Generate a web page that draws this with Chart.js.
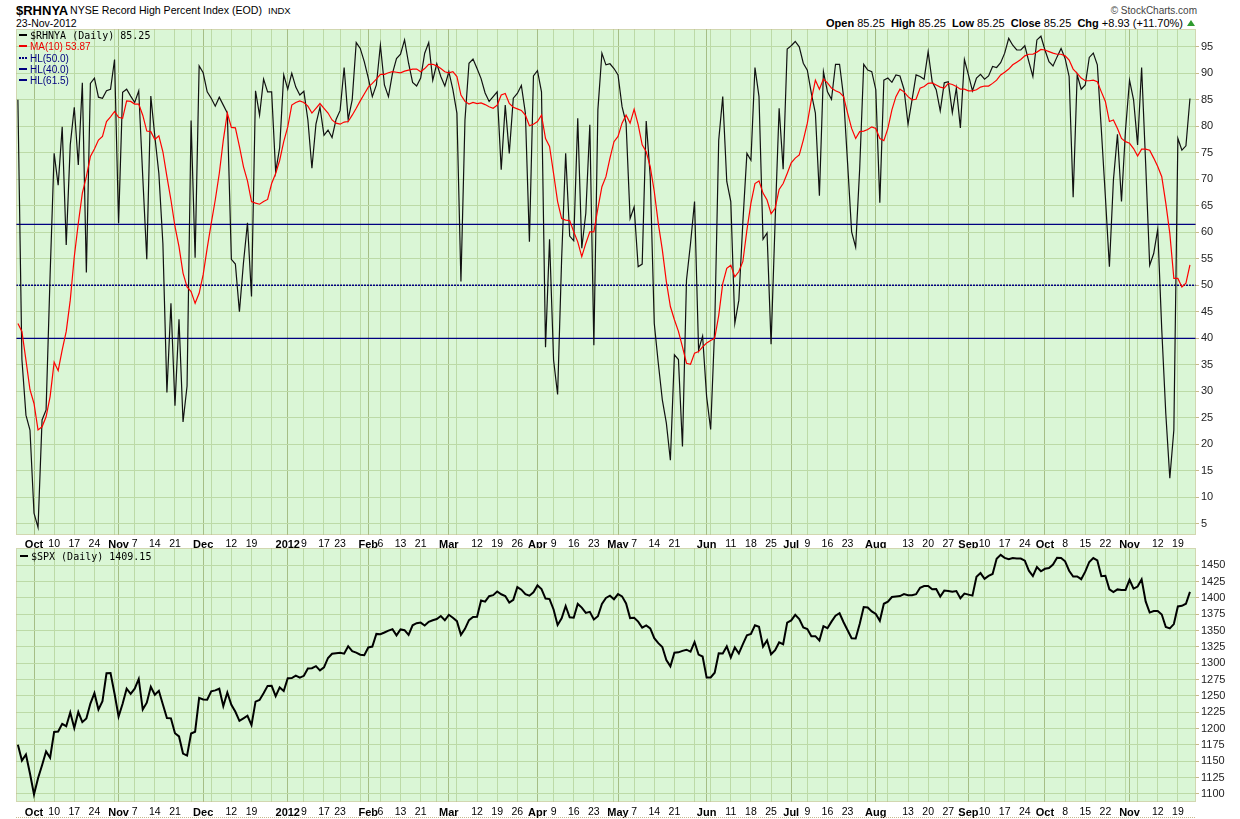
<!DOCTYPE html>
<html>
<head>
<meta charset="utf-8">
<title>$RHNYA vs $SPX</title>
<script src="https://cdn.jsdelivr.net/npm/chart.js@4.4.0/dist/chart.umd.min.js"></script>
<style>
  body { margin: 0; background: #fff; width: 1240px; height: 819px; position: relative; overflow: hidden;
         font-family: Arial, "Liberation Sans", sans-serif; color: #000; }
  .abs { position: absolute; white-space: nowrap; line-height: 1; }
  canvas { position: absolute; left: 0; }
  .leg { position: absolute; white-space: nowrap; font-size: 10px; line-height: 11px; }
  .mk { display: inline-block; width: 8px; height: 2px; vertical-align: middle; margin-right: 3px; position: relative; top: -1px; }
  .mono { font-family: "DejaVu Sans Mono", monospace; }
  .hdr b { font-weight: bold; }
  .up { display: inline-block; width: 0; height: 0; border-left: 4px solid transparent; border-right: 4px solid transparent;
        border-bottom: 6px solid #2e9a2e; margin-left: 4px; vertical-align: 1px; }
</style>
</head>
<body>

<div class="abs" style="left:16px;top:4px;font-size:13px;font-weight:bold;">$RHNYA</div>
<div class="abs" style="left:70px;top:5px;font-size:10.6px;">NYSE Record High Percent Index (EOD)</div>
<div class="abs" style="left:268px;top:6px;font-size:9.5px;">INDX</div>
<div class="abs" style="left:16px;top:18px;font-size:10.5px;">23-Nov-2012</div>
<div class="abs" style="right:43px;top:6px;font-size:10px;color:#444;">© StockCharts.com</div>
<div class="abs hdr" style="right:45px;top:18px;font-size:11px;">
  <b>Open</b> 85.25&nbsp; <b>High</b> 85.25&nbsp; <b>Low</b> 85.25&nbsp; <b>Close</b> 85.25&nbsp; <b>Chg</b> +8.93 (+11.70%)<span class="up"></span>
</div>

<canvas id="rhnya" width="1240" height="520" style="top:29px"></canvas>
<canvas id="spx" width="1240" height="271" style="top:548px"></canvas>

<div class="leg mono" style="left:19px;top:30px;"><span class="mk" style="background:#000"></span>$RHNYA (Daily) 85.25</div>
<div class="leg" style="left:19px;top:41px;color:#e00;"><span class="mk" style="background:#e00"></span>MA(10) 53.87</div>
<div class="leg" style="left:19px;top:52.5px;color:#000080;"><span class="mk" style="background:repeating-linear-gradient(90deg,#000080 0 2px,transparent 2px 3px)"></span>HL(50.0)</div>
<div class="leg" style="left:19px;top:63.5px;color:#000080;"><span class="mk" style="background:#000080"></span>HL(40.0)</div>
<div class="leg" style="left:19px;top:74.5px;color:#000080;"><span class="mk" style="background:#000080"></span>HL(61.5)</div>
<div class="leg mono" style="left:20px;top:551px;"><span class="mk" style="background:#000"></span>$SPX (Daily) 1409.15</div>

<script>
// trading calendar of the chart window
const startDate = '2011-09-27';
const endDate = '2012-11-23';
const closedDays = ['2011-11-24', '2011-12-26', '2012-01-02', '2012-01-16', '2012-02-20', '2012-04-06',
  '2012-05-28', '2012-07-04', '2012-09-03', '2012-10-29', '2012-10-30', '2012-11-22'];

// x axis labels
const monthTicks = ['2011-10-03', '2011-11-01', '2011-12-01', '2012-01-03', '2012-02-01', '2012-03-01', '2012-04-02',
  '2012-05-01', '2012-06-01', '2012-07-02', '2012-08-01', '2012-09-04', '2012-10-01', '2012-11-01'];
const monthNames = ['Oct', 'Nov', 'Dec', '2012', 'Feb', 'Mar', 'Apr', 'May', 'Jun', 'Jul', 'Aug', 'Sep', 'Oct', 'Nov'];
const dayTicks = ['2011-10-10', '2011-10-17', '2011-10-24', '2011-11-07', '2011-11-14', '2011-11-21', '2011-12-12',
  '2011-12-19', '2012-01-09', '2012-01-17', '2012-01-23', '2012-02-06', '2012-02-13', '2012-02-21', '2012-03-12',
  '2012-03-19', '2012-03-26', '2012-04-09', '2012-04-16', '2012-04-23', '2012-05-07', '2012-05-14', '2012-05-21',
  '2012-06-11', '2012-06-18', '2012-06-25', '2012-07-09', '2012-07-16', '2012-07-23', '2012-08-13', '2012-08-20',
  '2012-08-27', '2012-09-10', '2012-09-17', '2012-09-24', '2012-10-08', '2012-10-15', '2012-10-22', '2012-11-12',
  '2012-11-19'];

// y axis ticks
const rhnyaTicks = [5, 10, 15, 20, 25, 30, 35, 40, 45, 50, 55, 60, 65, 70, 75, 80, 85, 90, 95];
const spxTicks = [1100, 1125, 1150, 1175, 1200, 1225, 1250, 1275, 1300, 1325, 1350, 1375, 1400, 1425, 1450];

// $RHNYA daily close
const rhnya = [
  85, 36, 25.5, 22.7, 7, 4.3, 24.6, 26.5, 52, 74.9, 68.9, 79.9, 57.6, 76.5, 83.6, 72.7, 88.2, 52.4, 88.1, 89.1,
  85.5, 85.3, 86.7, 87, 92.6, 61.7, 86.4, 87, 85.7, 84.5, 86.7, 70.5, 54.9, 85.7, 78.1, 71.1, 57.9, 29.8, 46.6, 27.3,
  43.6, 24.2, 31, 81.1, 55.2, 91.4, 90.1, 86.5, 85.3, 83.8, 85.5, 84, 82.5, 54.9, 54, 45, 54.2, 61.8, 47.9, 86.7,
  82.1, 88.9, 86.5, 86.5, 71.4, 76, 89.7, 87, 90, 87.4, 85.9, 86.6, 81.2, 72.1, 80.4, 83.6, 78.3, 79.3, 77.9, 81.3,
  83, 91.1, 81.3, 85, 95.8, 94.7, 92.2, 89.1, 85.6, 87.8, 95.3, 87.8, 85.6, 90, 92.8, 93.6, 96.3, 91.9, 88.3, 87.6,
  89.1, 93.8, 95.8, 88.7, 91.8, 89.4, 87.6, 90.3, 86.9, 82.5, 50.7, 81.2, 91.9, 92.7, 90.9, 89, 86.3, 84.7, 85.6, 86.5,
  71.8, 84, 74.9, 85.3, 86.2, 87.7, 82.5, 58.2, 89.5, 90.5, 86.5, 38.3, 58.7, 35.9, 29.4, 55, 74.9, 59.3, 58.4, 81.5,
  57, 63.6, 80.3, 38.7, 83.1, 93.8, 91.6, 91.8, 90.9, 89.7, 83.7, 80.6, 62.6, 64.8, 53.5, 54, 81, 70.5, 42.8, 35.3,
  28.4, 24, 17, 36.9, 36, 19.6, 51, 57.9, 65.8, 37.8, 40.4, 29, 22.8, 42, 77.4, 85.6, 69.6, 65.8, 42.8, 47.2,
  62, 74.9, 73.6, 91.1, 85.6, 58.7, 59.9, 38.9, 62, 83.4, 71.9, 94.6, 95.2, 96, 95, 91.9, 90.6, 86.2, 82.5, 66.9,
  90.3, 86.5, 85.1, 91.7, 91.7, 85.6, 73, 60.1, 57.2, 72, 91.7, 90.6, 90.3, 86.9, 65.6, 88.7, 89.1, 88.3, 89.7, 89.5,
  87, 80.4, 85, 89.7, 89.4, 88.9, 94.1, 88.4, 86.9, 82.9, 88.2, 88.4, 82.6, 87.2, 79.7, 92.6, 89.7, 86.7, 89.1, 89.8,
  88.9, 89.5, 91.3, 91.1, 92, 93.8, 96.6, 95.3, 94.4, 94.4, 95.2, 92.2, 89.4, 96.3, 97, 94.4, 92.2, 91.4, 93.1, 94.7,
  92.8, 89.4, 66.6, 89.7, 87, 87.8, 93, 93.8, 91.6, 79.3, 66.7, 53.5, 69.9, 78.5, 65.8, 79.3, 88.7, 85, 76.5, 91.1,
  73, 53.8, 56, 60.6, 41.6, 25.8, 13.6, 22.7, 77.7, 75.5, 76.32, 85.25
];

// MA(10) of $RHNYA
const ma10 = [
  42.8, 41.3, 35.9, 30.3, 27.7, 22.7, 23.3, 25.2, 29, 35.5, 33.9, 37.8, 41.3, 47.2, 55.4, 61.7, 67.4, 70.5, 74.3, 75.7,
  77.4, 78.1, 80.9, 81.8, 82.8, 81.7, 81.5, 84.8, 84.7, 84.2, 84.2, 82.1, 79.1, 79, 77.5, 78.2, 75.2, 70.5, 66.1, 61.1,
  57.3, 52.3, 49.7, 48.8, 46.6, 48.5, 52, 57, 61.7, 66.1, 71.1, 77.4, 82.5, 79.8, 79.7, 76.2, 72.4, 69.7, 65.8, 65.5,
  65.3, 65.8, 66.2, 69.2, 71.1, 73.6, 77.1, 79.9, 84, 84.5, 84.8, 84.5, 83.8, 82.5, 83.4, 84.3, 83.4, 82.5, 81.2, 80.6,
  80.4, 80.8, 80.9, 82.1, 83.4, 84.8, 86.1, 87.4, 88.1, 88.9, 89.8, 89.8, 90.1, 90.3, 90.2, 90.1, 90.4, 90.6, 90.8, 90.8,
  90.3, 90.9, 91.7, 91.7, 91.4, 90.9, 90.3, 90.1, 90.3, 89.4, 85.9, 84.7, 84.2, 84.5, 84.3, 84.4, 84.1, 83.7, 83.4, 84,
  85.9, 86.2, 84.3, 83.6, 83.3, 83, 82.1, 80.1, 80.4, 80.9, 82.1, 77.7, 76.2, 71.1, 65.8, 62.6, 62.3, 62.2, 60.1, 58.2,
  55.4, 57.9, 60.1, 60.1, 64.5, 68.6, 70.5, 74, 77.1, 78.1, 80.6, 82.1, 80.6, 83.2, 80.3, 76.5, 75.2, 72.4, 67.7, 61.7,
  56.7, 50.7, 46, 43.5, 41.3, 38.4, 35.3, 35.1, 37.2, 37.5, 38.4, 39.1, 39.6, 40, 44.3, 50.3, 53.2, 53.8, 51.6, 52.6,
  54.5, 60.4, 65.5, 69.2, 69.7, 67.4, 66.1, 63.5, 64.5, 68.1, 69.2, 71.1, 73.1, 74, 74.6, 77.4, 80.6, 85, 88.7, 87,
  88.9, 88.2, 87.2, 86.7, 86.4, 85.6, 82.5, 79.6, 77.7, 79, 79.1, 79.4, 79.9, 79.6, 77.7, 77.3, 79.6, 83.1, 85.6, 87,
  86.5, 85.6, 85, 85.1, 87.2, 87.5, 88.1, 88.2, 87.8, 87.4, 87.2, 88.1, 87.9, 87.5, 87, 87, 86.7, 86.7, 86.9, 87.4,
  87.6, 87.6, 88.1, 88.7, 89.7, 90.2, 90.8, 91.6, 92.1, 92.6, 93.3, 93.6, 93.6, 94, 94.5, 94.4, 94.1, 93.8, 93.6, 93.6,
  93.3, 92.5, 90.8, 90, 89.1, 88.6, 88.6, 88.7, 88.4, 86.5, 84.7, 80.9, 81.2, 79.6, 77.7, 77.1, 76.8, 75.8, 74.4, 75.7,
  75.7, 75.5, 74, 72.4, 70.5, 65.5, 59.8, 51.3, 51.3, 49.7, 50.4, 53.87
];

// horizontal levels
const hlLevels = [50.0, 40.0, 61.5];

// $SPX daily close
const spx = [
  1175.38, 1151.06, 1160.40, 1131.42,
  1099.23, 1123.95, 1144.03, 1164.97, 1155.46, 1194.89, 1195.54, 1207.25, 1203.66, 1224.58, 1200.86, 1225.38, 1209.88,
  1215.39, 1238.25, 1254.19, 1229.05, 1242.00, 1284.59, 1285.09, 1253.30,
  1218.28, 1237.90, 1261.15, 1253.23, 1261.12, 1275.92, 1229.10, 1239.70, 1263.85, 1251.78, 1257.81, 1236.91, 1216.13,
  1215.65, 1192.98, 1188.04, 1161.79, 1158.67, 1192.55, 1195.19, 1246.96,
  1244.58, 1244.28, 1257.08, 1258.47, 1261.01, 1234.35, 1255.19, 1236.47, 1225.73, 1211.82, 1215.75, 1219.66, 1205.35,
  1241.30, 1243.72, 1254.00, 1265.33, 1265.43, 1249.64, 1263.02, 1257.60,
  1277.06, 1277.30, 1281.06, 1277.81, 1280.70, 1292.08, 1292.48, 1295.50, 1289.09, 1293.67, 1308.04, 1314.50, 1315.38,
  1316.00, 1314.65, 1326.06, 1318.43, 1316.33, 1313.01, 1312.41,
  1324.09, 1325.54, 1344.90, 1344.33, 1347.05, 1349.96, 1351.95, 1342.64, 1351.77, 1350.50, 1343.23, 1358.04, 1361.23,
  1362.21, 1357.66, 1363.46, 1365.74, 1367.59, 1372.18, 1365.68,
  1374.09, 1369.63, 1364.33, 1343.36, 1352.63, 1365.91, 1370.87, 1371.09, 1395.95, 1394.28, 1402.60, 1404.17, 1409.75,
  1405.52, 1402.89, 1392.78, 1397.11, 1416.51, 1412.52, 1405.54, 1403.28, 1408.47,
  1419.04, 1413.38, 1398.96, 1398.08, 1382.20, 1358.59, 1368.71, 1387.57, 1370.26, 1369.57, 1390.78, 1385.14, 1376.92,
  1378.53, 1366.94, 1371.97, 1390.69, 1399.98, 1403.36, 1397.91,
  1405.82, 1402.31, 1391.57, 1369.10, 1369.58, 1363.72, 1354.58, 1357.99, 1353.39, 1338.35, 1330.66, 1324.80, 1304.86,
  1295.22, 1315.99, 1316.63, 1318.86, 1320.68, 1317.82, 1332.42, 1313.32, 1310.33,
  1278.04, 1278.18, 1285.50, 1315.13, 1314.99, 1325.66, 1308.93, 1324.18, 1314.88, 1329.10, 1342.84, 1344.78, 1357.98,
  1355.69, 1325.51, 1335.02, 1313.72, 1319.99, 1331.85, 1329.04, 1362.16,
  1365.51, 1374.02, 1367.58, 1354.68, 1352.46, 1341.47, 1341.45, 1334.76, 1356.78, 1353.64, 1363.67, 1372.78, 1376.51,
  1362.66, 1350.52, 1338.31, 1337.89, 1360.02, 1385.97, 1385.30, 1379.32,
  1375.32, 1365.00, 1390.99, 1394.23, 1401.35, 1402.22, 1402.80, 1405.87, 1404.11, 1403.93, 1405.53, 1415.51, 1418.16,
  1418.13, 1413.17, 1413.49, 1402.08, 1411.13, 1410.44, 1409.30, 1410.49, 1399.48, 1406.58,
  1404.94, 1403.44, 1432.12, 1437.92, 1429.08, 1433.56, 1436.56, 1459.99, 1465.77, 1461.19, 1459.32, 1461.05, 1460.26,
  1460.15, 1456.89, 1441.59, 1433.32, 1447.15, 1440.67,
  1444.49, 1445.75, 1450.99, 1461.40, 1460.93, 1455.88, 1441.48, 1432.56, 1432.84, 1428.59, 1440.13, 1454.92, 1460.91,
  1457.34, 1433.19, 1433.82, 1413.11, 1408.75, 1412.97, 1411.94, 1412.16,
  1427.59, 1414.20, 1417.26, 1428.39, 1394.53, 1377.51, 1379.85, 1380.03, 1374.53, 1355.49, 1353.33, 1359.88, 1386.89,
  1387.81, 1391.03, 1409.15
];

// build the list of trading days
function tradingDays() {
  const out = [];
  const d = new Date(startDate + 'T00:00:00Z');
  const end = new Date(endDate + 'T00:00:00Z');
  while (d <= end) {
    const iso = d.toISOString().slice(0, 10);
    const wd = d.getUTCDay();
    if (wd !== 0 && wd !== 6 && !closedDays.includes(iso)) out.push(iso);
    d.setUTCDate(d.getUTCDate() + 1);
  }
  return out;
}
const dates = tradingDays();

// vertical grid: first day of each week, darker at month starts
const gridIdx = [];
const monthIdx = new Set();
for (let i = 1; i < dates.length; i++) {
  const a = new Date(dates[i - 1] + 'T00:00:00Z'), b = new Date(dates[i] + 'T00:00:00Z');
  const newWeek = b.getUTCDay() < a.getUTCDay() || (b - a) > 3 * 86400000;
  const newMonth = a.getUTCMonth() !== b.getUTCMonth();
  if (newMonth) monthIdx.add(i);
  if (newWeek || newMonth) gridIdx.push(i);
}
const labelMap = new Map();
monthTicks.forEach((d, k) => labelMap.set(dates.indexOf(d), monthNames[k]));
dayTicks.forEach(d => labelMap.set(dates.indexOf(d), String(parseInt(d.slice(8), 10))));

const X_MIN = -0.47, X_MAX = 292.5;
const GRID = '#bcdaa7', GRID_MONTH = '#a5be86', FRAME = '#c8b98b', PANEL = '#daf6d6';

const xy = arr => arr.map((v, i) => ({ x: i, y: v }));

// panel background and dotted frame
const panelFrame = {
  id: 'panelFrame',
  beforeDraw(chart) {
    const { ctx, chartArea: a } = chart;
    ctx.save();
    ctx.fillStyle = PANEL;
    ctx.fillRect(a.left, a.top, a.right - a.left, a.bottom - a.top);
    ctx.restore();
  },
  afterDraw(chart, args, opts) {
    const { ctx, chartArea: a } = chart;
    ctx.save();
    ctx.strokeStyle = FRAME;
    ctx.lineWidth = 1;
    ctx.setLineDash([1, 1]);
    ctx.strokeRect(a.left + 0.5, a.top + 0.5, a.right - a.left - 1, a.bottom - a.top - 1);
    if (opts.bottomLine) {
      const y = chart.height - 1.5;
      ctx.beginPath();
      ctx.moveTo(a.left, y);
      ctx.lineTo(a.right, y);
      ctx.stroke();
    }
    ctx.restore();
  }
};

function xAxis(height, pad) {
  return {
    type: 'linear', min: X_MIN, max: X_MAX,
    afterBuildTicks: s => { s.ticks = gridIdx.map(i => ({ value: i })); },
    afterFit: s => { s.height = height; s.paddingLeft = 0; s.paddingRight = 0; },
    grid: { color: c => monthIdx.has(c.tick.value) ? GRID_MONTH : GRID, drawTicks: false, lineWidth: 1 },
    border: { display: false },
    ticks: {
      autoSkip: false, maxRotation: 0, padding: pad, color: '#000',
      font: c => ({ size: monthIdx.has(c.tick && c.tick.value) ? 11 : 10.5,
                    weight: monthIdx.has(c.tick && c.tick.value) ? 'bold' : 'normal' }),
      callback: v => labelMap.get(v) || ''
    }
  };
}

function yAxis(min, max, ticks) {
  return {
    position: 'right', min: min, max: max,
    afterBuildTicks: s => { s.ticks = ticks.map(v => ({ value: v })); },
    afterFit: s => { s.width = 44; s.paddingTop = 0; s.paddingBottom = 0; },
    grid: { color: GRID, tickColor: FRAME, tickLength: 3 },
    border: { display: false },
    ticks: { padding: 2, color: '#222', font: { size: 11 }, callback: v => String(v) }
  };
}

Chart.defaults.font.family = 'Arial, "Liberation Sans", sans-serif';

const hlSets = hlLevels.map(level => ({
  data: [{ x: X_MIN, y: level }, { x: X_MAX, y: level }],
  borderColor: '#000080', borderWidth: level === 50 ? 1.5 : 1.2, borderDash: level === 50 ? [2, 1] : []
}));

new Chart(document.getElementById('rhnya'), {
  type: 'line',
  data: {
    datasets: [
      { data: xy(ma10), borderColor: '#ff0000', borderWidth: 1.2 },
      { data: xy(rhnya), borderColor: '#111', borderWidth: 1.2 },
      ...hlSets
    ]
  },
  options: {
    responsive: false, animation: false, devicePixelRatio: 1,
    layout: { padding: { left: 16, right: 0, top: 0, bottom: 0 } },
    elements: { point: { radius: 0 }, line: { tension: 0 } },
    plugins: { legend: { display: false }, tooltip: { enabled: false }, panelFrame: { bottomLine: false } },
    scales: { x: xAxis(14, 3), y: yAxis(2.89, 98.36, rhnyaTicks) }
  },
  plugins: [panelFrame]
});

new Chart(document.getElementById('spx'), {
  type: 'line',
  data: {
    datasets: [
      { data: xy(spx), borderColor: '#000', borderWidth: 2 }
    ]
  },
  options: {
    responsive: false, animation: false, devicePixelRatio: 1,
    layout: { padding: { left: 16, right: 0, top: 0, bottom: 0 } },
    elements: { point: { radius: 0 }, line: { tension: 0 } },
    plugins: { legend: { display: false }, tooltip: { enabled: false }, panelFrame: { bottomLine: true } },
    scales: { x: xAxis(17, 4), y: yAxis(1087.7, 1476.3, spxTicks) }
  },
  plugins: [panelFrame]
});
</script>
</body>
</html>
